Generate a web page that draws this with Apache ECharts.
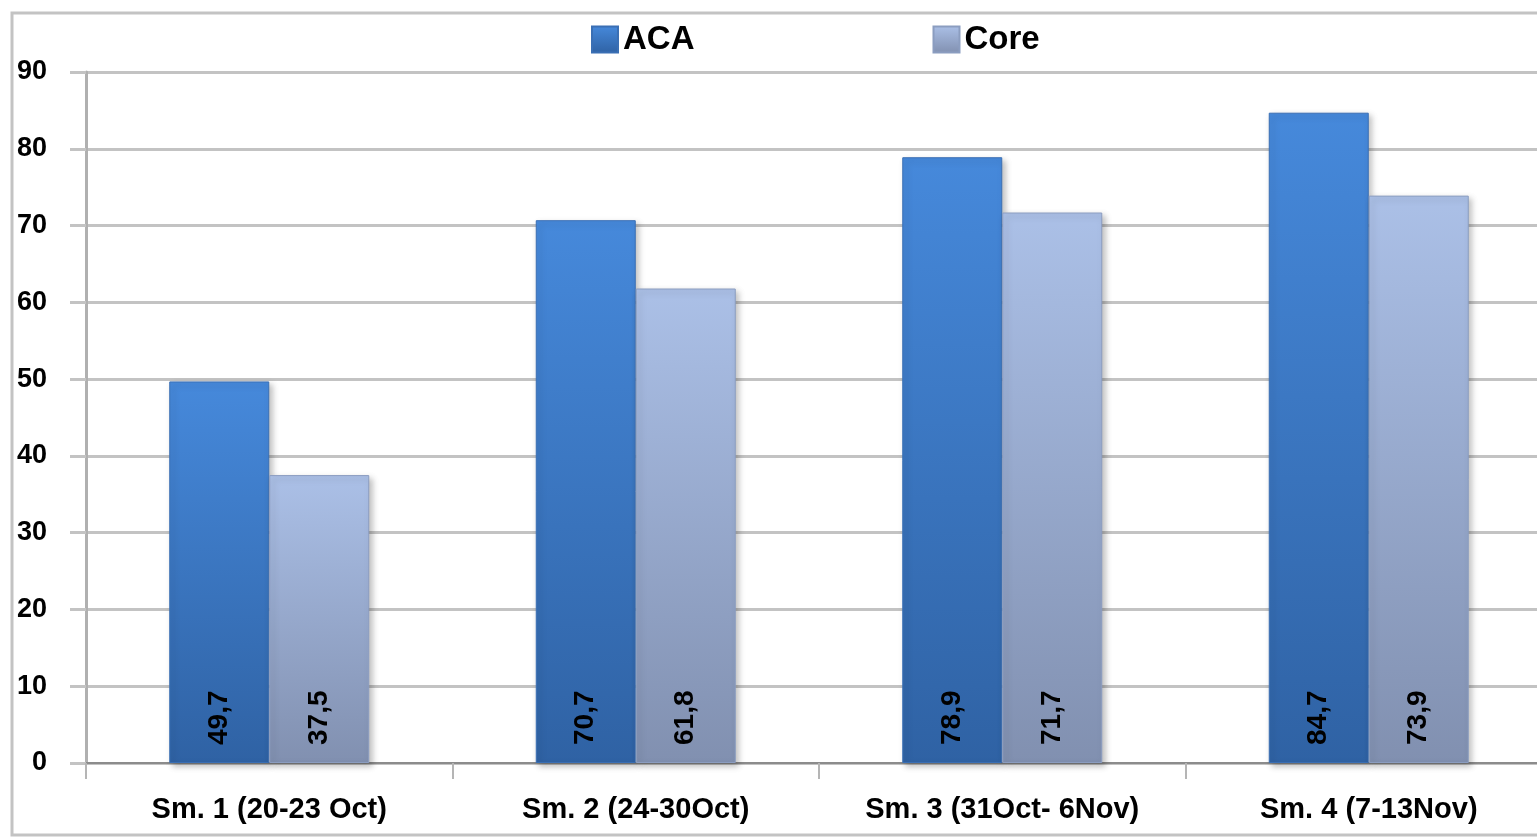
<!DOCTYPE html>
<html>
<head>
<meta charset="utf-8">
<script src="https://cdn.jsdelivr.net/npm/echarts@6/dist/echarts.min.js"></script>
<style>
  html, body { margin: 0; padding: 0; background: #fff; }
  #chart { width: 1537px; height: 837px; }
</style>
</head>
<body>
<div id="chart"></div>
<script>
const categories = ['Sm. 1 (20-23 Oct)', 'Sm. 2 (24-30Oct)', 'Sm. 3 (31Oct- 6Nov)', 'Sm. 4 (7-13Nov)'];
const acaValues = [49.7, 70.7, 78.9, 84.7];
const coreValues = [37.5, 61.8, 71.7, 73.9];
const seriesNames = ['ACA', 'Core'];

const FONT = '"Liberation Sans", Arial, sans-serif';

function grad(top, bottom) {
  return new echarts.graphic.LinearGradient(0, 0, 0, 1, [
    { offset: 0, color: top },
    { offset: 1, color: bottom }
  ]);
}

const fmt = p => String(p.value).replace('.', ',');

const valueLabel = {
  show: true,
  position: 'insideBottom',
  rotate: 90,
  align: 'left',
  verticalAlign: 'middle',
  distance: 18,
  color: '#000',
  fontFamily: FONT,
  fontWeight: 'bold',
  fontSize: 28,
  formatter: fmt
};

const chart = echarts.init(document.getElementById('chart'));
chart.setOption({
  animation: false,
  backgroundColor: '#fff',
  graphic: [{
    type: 'rect',
    shape: { x: 12, y: 13, width: 1540, height: 822 },
    style: { fill: 'none', stroke: '#c3c3c3', lineWidth: 3 },
    z: -1
  }],
  legend: {
    top: 18,
    left: 586,
    icon: 'rect',
    itemWidth: 26,
    itemHeight: 26,
    itemGap: 238,
    textStyle: { fontFamily: FONT, fontWeight: 'bold', fontSize: 33, color: '#000' },
    data: seriesNames
  },
  grid: {
    left: 86, top: 72, width: 1466, height: 691,
    containLabel: false,
    outerBoundsMode: 'none'
  },
  xAxis: {
    type: 'category',
    data: categories,
    axisLine: { lineStyle: { color: '#8c8c8c', width: 2 } },
    axisTick: { show: true, interval: 0, length: 16, lineStyle: { color: '#b5b5b5', width: 2 } },
    axisLabel: {
      interval: 0, hideOverlap: false, margin: 32,
      color: '#000', fontFamily: FONT, fontWeight: 'bold', fontSize: 29
    },
    splitLine: { show: false }
  },
  yAxis: {
    type: 'value',
    min: 0,
    max: 90,
    interval: 10,
    axisLine: { show: true, lineStyle: { color: '#b0b0b0', width: 3 } },
    axisTick: { show: true, length: 16, lineStyle: { color: '#c3c3c3', width: 3 } },
    axisLabel: { margin: 39, color: '#000', fontFamily: FONT, fontWeight: 'bold', fontSize: 27 },
    splitLine: { lineStyle: { color: '#c3c3c3', width: 3 } }
  },
  series: [
    {
      name: seriesNames[0],
      type: 'bar',
      data: acaValues,
      barWidth: 100,
      barGap: '0%',
      itemStyle: {
        color: grad('#4689db', '#2f62a4'),
        borderColor: '#3a6fb4',
        borderWidth: 1,
        shadowColor: 'rgba(0,0,0,0.25)',
        shadowBlur: 6,
        shadowOffsetX: 3,
        shadowOffsetY: 3
      },
      label: valueLabel
    },
    {
      name: seriesNames[1],
      type: 'bar',
      data: coreValues,
      barWidth: 100,
      itemStyle: {
        color: grad('#abc0e7', '#8190b0'),
        borderColor: '#8b9dc0',
        borderWidth: 1,
        shadowColor: 'rgba(0,0,0,0.25)',
        shadowBlur: 6,
        shadowOffsetX: 3,
        shadowOffsetY: 3
      },
      label: valueLabel
    }
  ]
});
</script>
</body>
</html>
